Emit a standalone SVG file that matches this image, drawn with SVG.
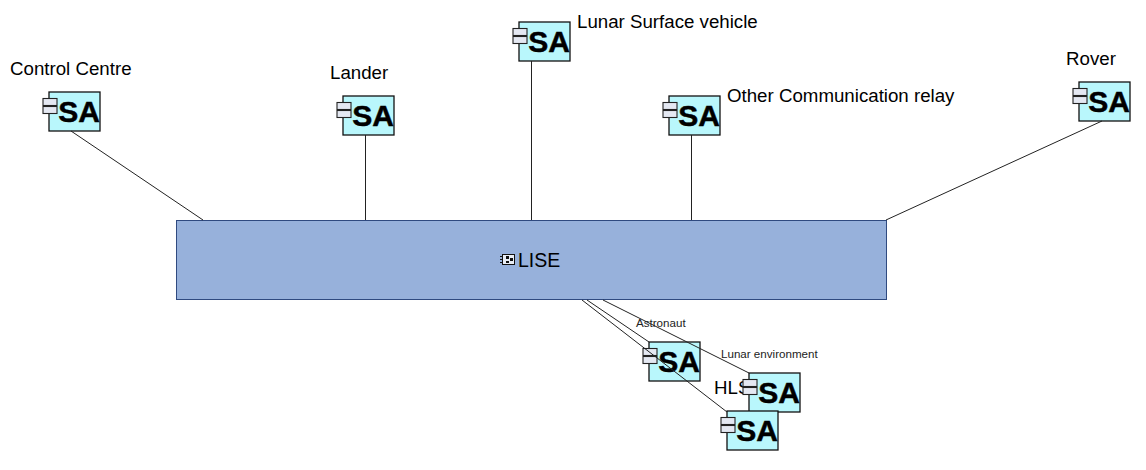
<svg xmlns="http://www.w3.org/2000/svg" width="1146" height="470" viewBox="0 0 1146 470">
<defs>
<style>
text{font-family:"Liberation Sans",Arial,sans-serif;fill:#000}
.lbl{font-size:18.700px}
.sm{font-size:11.600px;fill:#222}
.box{fill:#b9f7fc;stroke:#111;stroke-width:1.300}
.tab{fill:#e4e8f2;stroke:#222;stroke-width:1.100}
.sa{font-size:30px;font-weight:bold;text-anchor:middle;stroke:#000;stroke-width:.5}
.c{stroke:#222;stroke-width:1;fill:none}
</style>
<g id="sa">
<rect class="box" x="0" y="0" width="51" height="39"/>
<rect class="tab" x="-6" y="6.500" width="14" height="7"/>
<rect class="tab" x="-6" y="14.500" width="14" height="7"/>
<text class="sa" x="30" y="30">SA</text>
</g>
</defs>
<rect width="1146" height="470" fill="#fff"/>
<g id="lise">
<rect x="176.500" y="220.500" width="710" height="79" fill="#97b1db" stroke="#2f4a80" stroke-width="1"/>
<g fill="none" stroke="#111" stroke-width="1">
<rect x="502.500" y="254.500" width="12" height="10" fill="#e8edf5"/>
<path d="M500 256.500h3M500 259.500h3M500 262.500h3"/>
</g>
<rect x="506" y="256" width="3" height="3" fill="#111"/>
<rect x="510" y="258" width="3" height="3" fill="#111"/>
<rect x="506" y="261" width="3" height="2" fill="#111"/>
<text x="518" y="267" font-size="19.500" fill="#111133">LISE</text>
</g>
<g id="control-centre"><use href="#sa" x="49" y="92"/><text class="lbl" x="10" y="75">Control Centre</text></g>
<g id="lander"><use href="#sa" x="343" y="96"/><text class="lbl" x="330" y="79">Lander</text></g>
<g id="lunar-surface-vehicle"><use href="#sa" x="519" y="22"/><text class="lbl" x="577" y="28">Lunar Surface vehicle</text></g>
<g id="other-relay"><use href="#sa" x="669" y="96"/><text class="lbl" x="727" y="102">Other Communication relay</text></g>
<g id="rover"><use href="#sa" x="1079" y="82"/><text class="lbl" x="1066" y="65">Rover</text></g>
<g id="astronaut"><use href="#sa" x="649" y="342"/><text class="sm" x="636" y="327">Astronaut</text></g>
<text class="lbl" x="714" y="394">HLS</text>
<g id="lunar-environment"><use href="#sa" x="749" y="373"/><text class="sm" x="721" y="358">Lunar environment</text></g>
<g id="hls"><use href="#sa" x="727" y="411"/></g>
<g id="connectors" class="c">
<line class="c" x1="71" y1="131" x2="203" y2="220"/>
<line class="c" x1="365.500" y1="135" x2="365.500" y2="220"/>
<line class="c" x1="531.500" y1="61" x2="531.500" y2="220"/>
<line class="c" x1="691.500" y1="135" x2="691.500" y2="220"/>
<line class="c" x1="1102" y1="121" x2="886" y2="220"/>
<line class="c" x1="587" y1="300" x2="649" y2="342"/>
<line class="c" x1="582" y1="300" x2="727" y2="412"/>
<line class="c" x1="603" y1="300" x2="749" y2="373"/>
</g>
</svg>
